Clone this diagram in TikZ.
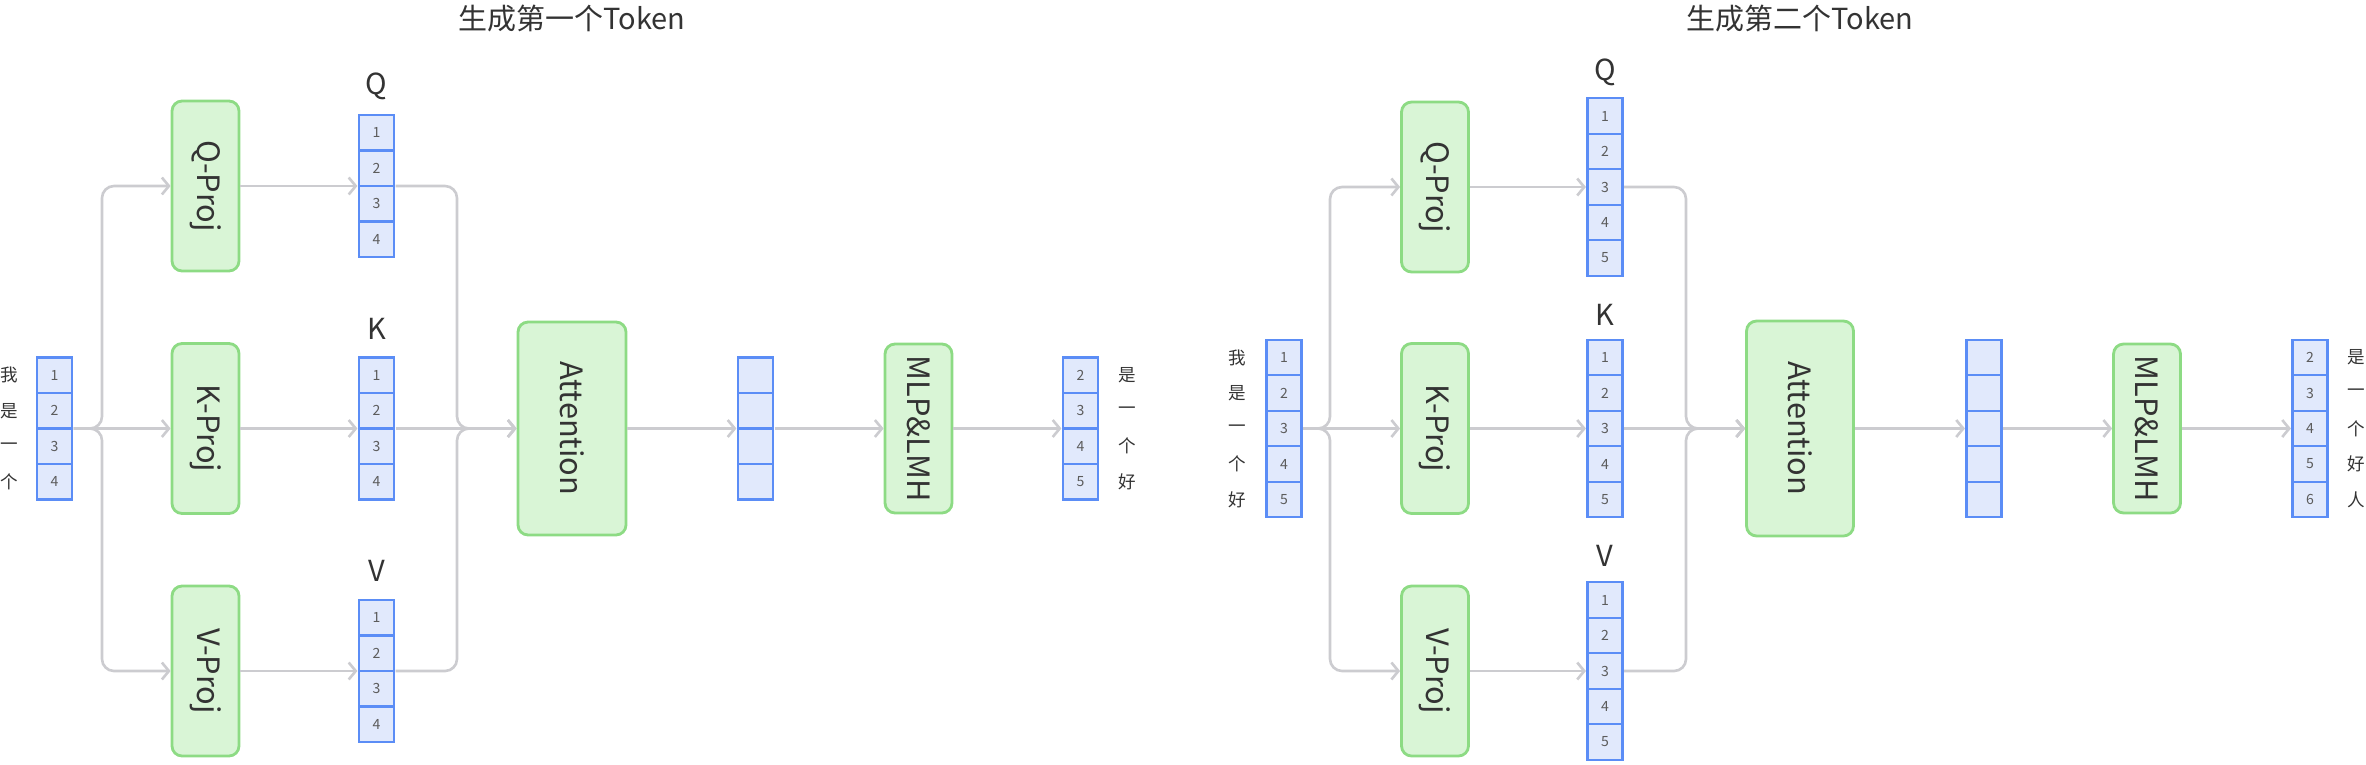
\documentclass[tikz,border=0pt]{standalone}
\usepackage{fontspec}
\setmainfont{Noto Sans CJK SC}
\usetikzlibrary{positioning,fit,arrows.meta}

\definecolor{boxfill}{RGB}{217,245,214}
\definecolor{boxline}{RGB}{141,219,132}
\definecolor{cellfill}{RGB}{225,233,252}
\definecolor{cellline}{RGB}{91,141,246}
\definecolor{wiregray}{RGB}{204,204,208}
\definecolor{ink}{RGB}{51,51,51}

\tikzset{
  block/.style={draw=boxline, fill=boxfill, line width=1.6pt, rounded corners=0.2cm, inner sep=0pt, text=ink, font=\fontsize{17.5}{20}\selectfont},
  proj/.style={block, minimum width=1.34cm, minimum height=3.4cm},
  cell/.style={draw=cellline, fill=cellfill, line width=1.4pt, minimum width=0.7cm, minimum height=0.71cm, inner sep=0pt, text=ink!80, font=\fontsize{8}{9}\selectfont},
  wire/.style={draw=wiregray, line width=1.5pt, rounded corners=0.24cm, -{Straight Barb[length=1.4mm,width=3.4mm]}},
  side/.style={text=ink, inner sep=0pt, font=\fontsize{10}{12}\selectfont},
  vlab/.style={text=ink, font=\fontsize{16.5}{18}\selectfont},
  title/.style={text=ink, font=\fontsize{16.5}{18}\selectfont},
}

\newcommand{\tokvec}[5]{%
  \foreach \t [count=\i] in {#5} {
    \node[cell] (#1-\i) at (#2, {#3+(\i-(#4+1)/2)*35.5}) {\t};
  }
  \node[fit=(#1-1)(#1-#4), inner sep=0pt] (#1) {};
}

\begin{document}
\begin{tikzpicture}[x=0.02cm, y=-0.02cm]
\useasboundingbox (0,0) rectangle (2366,764);

\node[title] (ttlA) at (572,19) {生成第一个Token};
\node[title] (ttlB) at (1800,19) {生成第二个Token};

\tokvec{inA}{54.5}{428.5}{4}{1,2,3,4}
\foreach \t [count=\i] in {我,是,一,个} \node[side, left=3.4mm of inA-\i] (wA-\i) {\t};

\node[proj] (qpA) at (205.5,186) {\rotatebox{-90}{Q-Proj}};
\node[proj] (kpA) at (205.5,428.5) {\rotatebox{-90}{K-Proj}};
\node[proj] (vpA) at (205.5,671) {\rotatebox{-90}{V-Proj}};

\tokvec{qA}{376.5}{186}{4}{1,2,3,4}
\tokvec{kA}{376.5}{428.5}{4}{1,2,3,4}
\tokvec{vA}{376.5}{671}{4}{1,2,3,4}
\node[vlab] (qlA) at (376.5,86) {Q};
\node[vlab] (klA) at (376.5,329) {K};
\node[vlab] (vlA) at (376.5,571) {V};

\node[block, minimum width=2.16cm, minimum height=4.26cm] (attA) at (572,428.5) {\rotatebox{-90}{Attention}};
\tokvec{hA}{755.5}{428.5}{4}{{},{},{},{}}
\node[block, minimum width=1.34cm, minimum height=3.38cm] (mlpA) at (918.5,428.5) {\rotatebox{-90}{MLP\&LMH}};
\tokvec{outA}{1080.5}{428.5}{4}{2,3,4,5}
\foreach \t [count=\i] in {是,一,个,好} \node[side, right=3.7mm of outA-\i] (oA-\i) {\t};

\coordinate (brA) at (102,428.5);
\coordinate (mgA) at (457,428.5);
\draw[wire] (inA.east) -- (kpA.west);
\draw[wire] (inA.east) -- (brA) |- (qpA.west);
\draw[wire] (inA.east) -- (brA) |- (vpA.west);
\draw[wire] (qpA.east) -- (qA.west);
\draw[wire] (kpA.east) -- (kA.west);
\draw[wire] (vpA.east) -- (vA.west);
\draw[wire] (qA.east) -| (mgA) -- (attA.west);
\draw[wire] (kA.east) -- (attA.west);
\draw[wire] (vA.east) -| (mgA) -- (attA.west);
\draw[wire] (attA.east) -- (hA.west);
\draw[wire] (hA.east) -- (mlpA.west);
\draw[wire] (mlpA.east) -- (outA.west);

\tokvec{inB}{1284}{428.5}{5}{1,2,3,4,5}
\foreach \t [count=\i] in {我,是,一,个,好} \node[side, left=3.7mm of inB-\i] (wB-\i) {\t};

\node[proj] (qpB) at (1435,187) {\rotatebox{-90}{Q-Proj}};
\node[proj] (kpB) at (1435,428.5) {\rotatebox{-90}{K-Proj}};
\node[proj] (vpB) at (1435,671) {\rotatebox{-90}{V-Proj}};

\tokvec{qB}{1605}{187}{5}{1,2,3,4,5}
\tokvec{kB}{1605}{428.5}{5}{1,2,3,4,5}
\tokvec{vB}{1605}{671}{5}{1,2,3,4,5}
\node[vlab] (qlB) at (1605,72) {Q};
\node[vlab] (klB) at (1605,315) {K};
\node[vlab] (vlB) at (1605,556) {V};

\node[block, minimum width=2.14cm, minimum height=4.3cm] (attB) at (1800,428.5) {\rotatebox{-90}{Attention}};
\tokvec{hB}{1984}{428.5}{5}{{},{},{},{},{}}
\node[block, minimum width=1.34cm, minimum height=3.38cm] (mlpB) at (2147,428.5) {\rotatebox{-90}{MLP\&LMH}};
\tokvec{outB}{2310}{428.5}{5}{2,3,4,5,6}
\foreach \t [count=\i] in {是,一,个,好,人} \node[side, right=3.7mm of outB-\i] (oB-\i) {\t};

\coordinate (brB) at (1330,428.5);
\coordinate (mgB) at (1686,428.5);
\draw[wire] (inB.east) -- (kpB.west);
\draw[wire] (inB.east) -- (brB) |- (qpB.west);
\draw[wire] (inB.east) -- (brB) |- (vpB.west);
\draw[wire] (qpB.east) -- (qB.west);
\draw[wire] (kpB.east) -- (kB.west);
\draw[wire] (vpB.east) -- (vB.west);
\draw[wire] (qB.east) -| (mgB) -- (attB.west);
\draw[wire] (kB.east) -- (attB.west);
\draw[wire] (vB.east) -| (mgB) -- (attB.west);
\draw[wire] (attB.east) -- (hB.west);
\draw[wire] (hB.east) -- (mlpB.west);
\draw[wire] (mlpB.east) -- (outB.west);
\end{tikzpicture}
\end{document}
